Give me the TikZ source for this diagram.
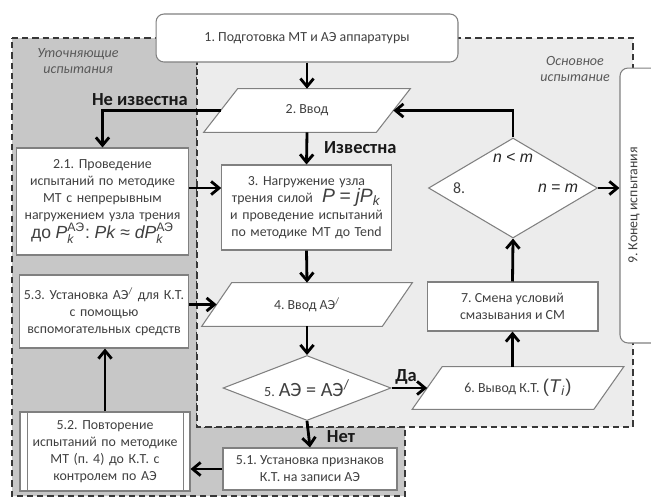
\documentclass[tikz,border=0pt]{standalone}
\usepackage{fontspec}
\setmainfont{Carlito}
\newfontfamily\arialf{Liberation Sans}
\usetikzlibrary{arrows.meta,shapes.geometric,backgrounds}
\definecolor{darkfill}{gray}{0.78}
\definecolor{lightfill}{gray}{0.925}
\definecolor{boxline}{gray}{0.5}
\definecolor{txt}{gray}{0.25}
\definecolor{dashcol}{gray}{0.22}
\frenchspacing
\newcommand\paraframe[2]{\draw[boxline,fill=white,line width=0.6pt] ([xshift=-#2]#1.south west) -- ([xshift=#2]#1.north west) -- ([xshift=#2]#1.north east) -- ([xshift=-#2]#1.south east) -- cycle;}
\newcommand\PAE[1]{\textit{#1}$^{\hbox{\fontsize{7}{8}\selectfont АЭ}}_{\hbox{\fontsize{7}{8}\selectfont\itshape k}}$}

\begin{document}
\begin{tikzpicture}[x=0.02cm,y=-0.02cm,
		box/.style={draw=boxline,fill=white,line width=0.6pt,text=txt,align=center,inner sep=1pt,font=\fontsize{7.9}{9.6}\selectfont},
		para/.style={text=txt,align=center,inner sep=0pt,font=\fontsize{7.9}{9.6}\selectfont},
		dmd/.style={diamond,draw=boxline,fill=white,line width=0.6pt,text=txt,inner sep=0pt},
		arr/.style={line width=1.6pt,-{Straight Barb[length=4.5pt,width=7.5pt]}},
		region/.style={draw=dashcol,dash pattern=on 3.5pt off 2.3pt,line width=0.9pt},
		regtitle/.style={text=black!65,align=center,font=\itshape\fontsize{8}{9.6}\selectfont},
		word/.style={text=black!90,font=\bfseries\fontsize{10.5}{12}\selectfont},
		mlab/.style={text=black!85,font=\arialf\itshape\fontsize{9}{10}\selectfont}]
			\useasboundingbox (0,0) rectangle (651,498);
			\begin{scope}[on background layer]
				\fill[white] (0,0) rectangle (651,498);
				\draw[region,fill=darkfill] (12,38) -- (197,38) -- (197,427) -- (405,427) -- (405,496) -- (12,496) -- cycle;
				\draw[region,fill=lightfill] (197,38) rectangle (633,427);
			\end{scope}
			\node[regtitle] (t1) at (78,61) {Уточняющие\\испытания};
			\node[regtitle] (t2) at (575,69) {Основное\\испытание};

			\node[box,rounded corners=0.16cm,minimum width=6.04cm,minimum height=0.96cm] (n1) at (307,38) {1. Подготовка МТ и АЭ аппаратуры};
			\node[para,minimum width=3.44cm,minimum height=0.86cm] (n2) at (307,110.5) {2. Ввод};
			\node[box,minimum width=3.42cm,minimum height=2.14cm,text width=3.36cm] (n21) at (102.5,201.5) {2.1. Проведение\\испытаний по методике\\МТ с непрерывным\\нагружением узла трения\\{\arialf\fontsize{10}{11}\selectfont до \PAE{P}: \textit{Pk} ≈ \PAE{dP}}};
			\node[box,minimum width=3.38cm,minimum height=1.7cm,text width=3.32cm] (n3) at (306.5,207.5) {3. Нагружение узла\\трения силой~~{\arialf\fontsize{11}{12}\selectfont\textit{P} = \textit{jP}\textsubscript{\textit{k}}}\\и проведение испытаний\\по методике МТ до Tend};
			\node[para,minimum width=3.6cm,minimum height=0.86cm] (n4) at (307,304.5) {4. Ввод АЭ\textsuperscript{/}};
			\node[box,minimum width=3.36cm,minimum height=1.46cm,text width=3.3cm] (n53) at (104,311.5) {5.3. Установка АЭ\textsuperscript{/} для К.Т.\\с помощью\\вспомогательных средств};
			\node[dmd,aspect=2.6,minimum width=3.36cm,minimum height=1.3cm] (n5) at (307,388) {{\fontsize{8}{9}\selectfont 5.} {\fontsize{11.5}{13}\selectfont АЭ = АЭ\textsuperscript{/}}};
			\node[para,minimum width=3.62cm,minimum height=0.84cm] (n6) at (518,388) {6. Вывод К.Т. {\arialf\fontsize{10.5}{12}\selectfont(\textit{T}\textsubscript{\textit{i}})}};
			\node[box,minimum width=3.42cm,minimum height=0.98cm] (n7) at (512.5,306.5) {7. Смена условий\\смазывания и СМ};
			\node[dmd,minimum width=3.38cm,minimum height=2cm] (n8) at (513,188) {};
			\node[mlab] (n8a) at (513,158) {n < m};
			\node[mlab] (n8b) at (558,188) {n = m};
			\node[para,font=\fontsize{9}{10}\selectfont] (n8c) at (459,188) {8.};
			\node[box,rounded corners=0.16cm,minimum width=0.84cm,minimum height=5.5cm] (n9) at (641,205.5) {};
			\node[para,rotate=90] (n9t) at (634,205.5) {9. Конец испытания};
			\node[box,minimum width=3.48cm,minimum height=0.84cm] (n51) at (310,469) {5.1. Установка признаков\\К.Т. на записи АЭ};
			\node[box,minimum width=3.4cm,minimum height=1.58cm,text width=3.1cm] (n52) at (105,451.5) {5.2. Повторение\\испытаний по методике\\МТ (п. 4) до К.Т. с\\контролем по АЭ};
			\draw[boxline,line width=0.6pt] ([xshift=0.16cm]n52.north west) -- ([xshift=0.16cm]n52.south west) ([xshift=-0.14cm]n52.north east) -- ([xshift=-0.14cm]n52.south east);
			\begin{scope}[on background layer]
				\paraframe{n2}{0.34cm}
				\paraframe{n4}{0.3cm}
				\paraframe{n6}{0.3cm}
			\end{scope}

			\node[word,anchor=east] (lno) at (194,100) {Не известна};
			\node[word,anchor=west] (lyes) at (318,148) {Известна};
			\node[word] (lda) at (406,377) {Да};
			\node[word] (lnet) at (341,437) {Нет};

			\draw[arr] (n1.south) -- (n2.north);
			\draw[arr] (n2.west) -| (n21.north);
			\draw[arr] (n2.south) -- (n3.north);
			\draw[arr] ([yshift=0.27cm]n21.east) -- ([yshift=0.27cm]n21.east -| n3.west);
			\draw[arr] (n3.south) -- (n4.north);
			\draw[arr] (n53.east |- n4.west) -- (n4.west);
			\draw[arr] (n4.south) -- (n5.north);
			\draw[arr] (n5.east) -- (n6.west);
			\draw[arr] (n7.south |- n6.north) -- (n7.south);
			\draw[arr] (n7.north) -- (n8.south);
			\draw[arr] (n8.north) |- (n2.east);
			\draw[arr] (n8.east) -- (n8.east -| n9.west);
			\draw[arr] (n5.south) -- (n51.north);
			\draw[arr] (n51.west) -- (n51.west -| n52.east);
			\draw[arr] (n52.north) -- (n52.north |- n53.south);
		\end{tikzpicture}
\end{document}
